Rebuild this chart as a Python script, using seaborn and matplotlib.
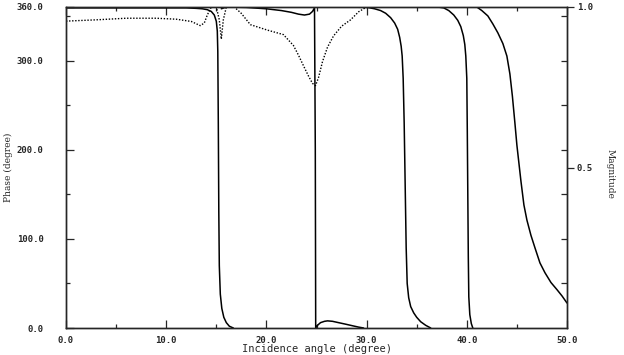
import numpy as np
import pandas as pd
import seaborn as sns
from matplotlib import pyplot as plt
from matplotlib.ticker import MultipleLocator, FixedLocator

# phase curves (degree), solid
c1_x = [0, 5, 10, 12, 13, 13.6, 14.1, 14.5, 14.8, 15.0, 15.1, 15.15, 15.2, 15.25, 15.3,
        15.4, 15.55, 15.75, 16.0, 16.3, 16.7]
c1_y = [359, 359, 359, 359, 358.5, 358, 357, 355, 351, 344, 333, 310, 230, 130, 70,
        38, 22, 12, 6, 2, 0]

c2_x = [15.5, 16, 18, 20, 21.5, 22.5, 23.2, 23.8, 24.3, 24.6, 24.8, 24.88, 24.92,
        25.1, 25.4, 25.8, 26.1, 26.6, 27.2, 27.9, 28.6, 29.2, 29.7]
c2_y = [358, 360, 359.5, 358, 356, 354, 352, 351, 352, 355, 359, 200, 0,
        3, 6, 7.5, 8, 7.5, 6, 4.3, 2.5, 1, 0]

c3_x = [24.92, 28, 30.1, 30.8, 31.4, 31.9, 32.4, 32.8, 33.1, 33.3, 33.45, 33.55, 33.65,
        33.75, 33.85, 33.95, 34.05, 34.2, 34.4, 34.7, 35.0, 35.4, 35.9, 36.4]
c3_y = [360, 360, 359.5, 358, 356, 353, 348, 342, 335, 326, 316, 305, 280,
        230, 160, 90, 50, 34, 24, 17, 12, 7, 3, 0]

c4_x = [37.1, 37.7, 38.2, 38.7, 39.1, 39.4, 39.65, 39.8, 39.9, 40.0, 40.05, 40.1, 40.15,
        40.2, 40.3, 40.45, 40.6]
c4_y = [360, 359, 356, 351, 345, 338, 328, 318, 305, 280, 220, 150, 80,
        35, 15, 5, 0]

c5_x = [41.0, 41.5, 42.1, 42.6, 43.1, 43.6, 44.0, 44.3, 44.55, 44.8, 45.0, 45.2, 45.4,
        45.7, 46.0, 46.4, 46.8, 47.3, 47.8, 48.4, 49.0, 49.5, 50.0]
c5_y = [360, 356, 350, 341, 331, 319, 305, 285, 260, 230, 205, 185, 165,
        138, 121, 104, 90, 73, 62, 51, 43, 36, 28]

# magnitude, dotted
mag_x = [0, 3, 6, 9, 11, 12.5, 13.4, 13.8, 14.1, 14.5, 15.0, 15.3, 15.5, 15.7, 16.0,
         16.8, 17.5, 18.4, 20.1, 21.7, 22.7, 23.2, 23.7, 24.2, 24.6, 24.9, 25.2, 25.6,
         26.1, 26.7, 27.5, 28.4, 29.2, 30.0, 50.0]
mag_y = [0.956, 0.96, 0.965, 0.965, 0.962, 0.955, 0.942, 0.95, 0.975, 1.0, 1.0, 0.96, 0.9,
         0.96, 1.0, 1.0, 0.98, 0.945, 0.928, 0.914, 0.88, 0.85, 0.817, 0.785, 0.762, 0.755,
         0.78, 0.83, 0.875, 0.91, 0.94, 0.96, 0.985, 1.0, 1.0]

x_ticks = [0, 10, 20, 30, 40, 50]
phase_ticks = [0, 100, 200, 300, 360]
mag_ticks = [0.5, 1.0]

sns.set_style("ticks")
plt.rcParams["font.family"] = ["DejaVu Sans"]

fig = plt.figure(figsize=(6.24, 3.55), dpi=100)
ax = fig.add_axes([66 / 624, 1 - 328 / 355, (567 - 66) / 624, 321 / 355])

for cx, cy in [(c1_x, c1_y), (c2_x, c2_y), (c3_x, c3_y), (c4_x, c4_y), (c5_x, c5_y)]:
    sns.lineplot(x=cx, y=cy, ax=ax, color="black", lw=1.1, sort=False, estimator=None)

ax.set_xlim(0, 50)
ax.set_ylim(0, 360)
ax.set_xticks(x_ticks)
ax.set_xticklabels([f"{v:.1f}" for v in x_ticks])
ax.set_yticks(phase_ticks)
ax.set_yticklabels([f"{v:.1f}" for v in phase_ticks])
ax.xaxis.set_minor_locator(MultipleLocator(5))
ax.yaxis.set_minor_locator(FixedLocator([50, 150, 250, 350]))
ax.tick_params(which="major", direction="in", length=6, width=0.9, labelsize=6.5,
               top=True, pad=4)
ax.tick_params(which="minor", direction="in", length=3, width=0.9, top=True)
ax.tick_params(axis="y", pad=16)
ax.tick_params(axis="x", pad=6)
for t in ax.get_xticklabels() + ax.get_yticklabels():
    t.set_fontweight("bold")
    t.set_family("DejaVu Sans Mono")
for s in ax.spines.values():
    s.set_linewidth(1.0)

ax.set_ylabel("Phase (degree)", family="DejaVu Serif", fontsize=6.5)
ax.yaxis.set_label_coords(-0.105, 0.5)
ax.set_xlabel("Incidence angle (degree)", family="DejaVu Sans Mono", fontsize=7.5)
ax.xaxis.set_label_coords(0.5, -0.082)
ax.xaxis.label.set_va("bottom")

ax2 = ax.twinx()
sns.lineplot(x=mag_x, y=mag_y, ax=ax2, color="black", lw=1.0, ls=(0, (1, 1.2)),
             sort=False, estimator=None)
ax2.set_ylim(0, 1)
ax2.set_yticks(mag_ticks)
ax2.set_yticklabels([f"{v:.1f}" for v in mag_ticks])
ax2.yaxis.set_minor_locator(FixedLocator([v / 360 for v in [50, 100, 150, 200, 250, 300, 350]]))
ax2.tick_params(which="major", direction="out", length=5, width=0.9, labelsize=6.5, pad=2)
ax2.tick_params(which="minor", direction="in", length=4, width=0.9)
for t in ax2.get_yticklabels():
    t.set_fontweight("bold")
    t.set_family("DejaVu Sans Mono")
ax2.set_ylabel("Magnitude", family="DejaVu Serif", fontsize=6.5, rotation=270, labelpad=8)
ax2.yaxis.set_label_coords(1.095, 0.48)
for s in ax2.spines.values():
    s.set_linewidth(1.0)

fig.savefig("out.png", dpi=100)
